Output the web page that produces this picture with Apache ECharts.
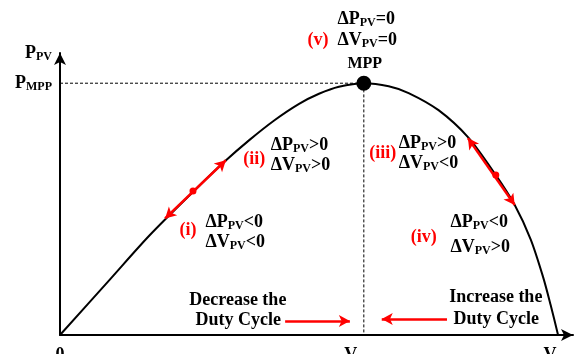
<!DOCTYPE html>
<html>
<head>
<meta charset="utf-8">
<script src="https://cdn.jsdelivr.net/npm/echarts@6/dist/echarts.min.js"></script>
<style>
  html, body { margin: 0; padding: 0; background: #fff; }
  #c { width: 576px; height: 354px; }
</style>
</head>
<body>
<div id="c"></div>
<script>
// P–V characteristic of a PV source, normalised units (V_OC = 100, P_MPP = 100)
const voltage = [0, 10, 18, 27, 33, 38, 43, 48, 52, 56, 61, 66, 70, 76, 82, 87.5, 91.3, 94.5, 97, 98.5, 100];
const power   = [0, 22, 39.6, 57.4, 68.8, 77.4, 85.2, 91.8, 95.8, 98.6, 100, 98.8, 96.1, 89.3, 78.4, 63.5, 51.6, 38, 23, 12, 0];

// maximum power point
const vMpp = 61;
const pMpp = 100;

// axis tick positions and their labels
const xTicks = [0, vMpp, 100];
const xTickLabels = ['0', 'V_MPP', 'V_PV'];
const yTicks = [pMpp, 112];
const yTickLabels = ['P_MPP', 'P_PV'];

// perturbation arrows along the curve: [start, end, middle dot]
const leftArrow  = [[21.1, 46.3], [33.3, 69.4], [26.7, 57.2]];
const rightArrow = [[81.9, 78.2], [91.3, 51.6], [87.5, 63.5]];

// duty-cycle arrows near the voltage axis
const decreaseArrow = [[45.2, 5.6], [58.2, 5.6]];
const increaseArrow = [[77.7, 6.4], [64.6, 6.4]];

// annotation lines: text, anchor (left-middle or centre), alignment, style key
const notes = [
  { t: 'ΔP_PV=0', at: [55.6, 125.5], a: 'left', k: 'b' },
  { t: 'ΔV_PV=0', at: [55.6, 117.2], a: 'left', k: 'b' },
  { t: '(v)',     at: [49.6, 117.2], a: 'left', k: 'r' },
  { t: 'MPP',     at: [61.2, 107.8], a: 'center', k: 'm' },

  { t: 'ΔP_PV>0', at: [42.2, 75.5], a: 'left', k: 'b' },
  { t: 'ΔV_PV>0', at: [42.2, 67.5], a: 'left', k: 'b' },
  { t: '(ii)',    at: [36.7, 69.9], a: 'left', k: 'r' },

  { t: 'ΔP_PV<0', at: [29.1, 44.9], a: 'left', k: 'b' },
  { t: 'ΔV_PV<0', at: [29.1, 36.9], a: 'left', k: 'b' },
  { t: '(i)',     at: [23.9, 41.7], a: 'left', k: 'r' },

  { t: 'ΔP_PV>0', at: [67.9, 76.2], a: 'left', k: 'b' },
  { t: 'ΔV_PV<0', at: [67.9, 68.3], a: 'left', k: 'b' },
  { t: '(iii)',   at: [62.0, 72.3], a: 'left', k: 'r' },

  { t: 'ΔP_PV<0', at: [78.3, 44.9], a: 'left', k: 'b' },
  { t: 'ΔV_PV>0', at: [78.3, 34.9], a: 'left', k: 'b' },
  { t: '(iv)',    at: [70.3, 38.9], a: 'left', k: 'r' },

  { t: 'Decrease the', at: [35.7, 13.9], a: 'center', k: 'b' },
  { t: 'Duty Cycle',   at: [35.8, 6.0],  a: 'center', k: 'b' },
  { t: 'Increase the', at: [87.5, 15.1], a: 'center', k: 'b' },
  { t: 'Duty Cycle',   at: [87.6, 6.4],  a: 'center', k: 'b' }
];

const FONT = '"Liberation Serif", "Times New Roman", serif';
const RED = '#ff0000';

const rich = {
  b: { fontFamily: FONT, fontWeight: 'bold', fontSize: 18, color: '#000', lineHeight: 20 },
  m: { fontFamily: FONT, fontWeight: 'bold', fontSize: 16, color: '#000', lineHeight: 20 },
  r: { fontFamily: FONT, fontWeight: 'bold', fontSize: 18, color: RED, lineHeight: 20 },
  s: { fontFamily: FONT, fontWeight: 'bold', fontSize: 12, color: '#000', lineHeight: 14, verticalAlign: 'bottom' }
};

// "ΔP_PV=0" -> rich text with "PV" as a subscript
function fmt(text, key) {
  return '{' + key + '|' + text.replace(/_([A-Z]+)/g, '}{s|$1}{' + key + '|') + '}';
}

const curve = voltage.map((v, i) => [v, power[i]]);

const chart = echarts.init(document.getElementById('c'));

chart.setOption({
  animation: false,
  backgroundColor: '#fff',
  grid: { left: 60, right: 3, top: 53, bottom: 19, containLabel: false, outerBoundsMode: 'none' },
  xAxis: {
    type: 'value', min: 0, max: 103,
    axisLine: { show: true, symbol: ['none', 'arrow'], symbolSize: [9, 12],
                lineStyle: { color: '#000', width: 2 } },
    axisTick: { show: false },
    splitLine: { show: false },
    axisLabel: {
      customValues: xTicks,
      margin: 10,
      formatter: v => fmt(xTickLabels[xTicks.indexOf(v)], 'b'),
      rich: rich
    }
  },
  yAxis: {
    type: 'value', min: 0, max: 112,
    axisLine: { show: true, symbol: ['none', 'arrow'], symbolSize: [9, 12],
                lineStyle: { color: '#000', width: 2 } },
    axisTick: { show: false },
    splitLine: { show: false },
    axisLabel: {
      customValues: yTicks,
      margin: 8,
      formatter: v => fmt(yTickLabels[yTicks.indexOf(v)], 'b'),
      rich: rich
    }
  },
  series: [
    {
      // dashed guides to the MPP
      type: 'line',
      data: [[0, pMpp], [vMpp, pMpp], [vMpp, 0]],
      symbol: 'none',
      lineStyle: { color: '#000', width: 1, type: [3, 2] },
      silent: true, z: 1
    },
    {
      // P–V curve
      type: 'line',
      data: curve,
      smooth: 0.3,
      symbol: 'none',
      lineStyle: { color: '#000', width: 2 },
      silent: true, z: 2,
      markLine: {
        silent: true,
        symbol: ['arrow', 'arrow'],
        symbolSize: [9, 11],
        label: { show: false },
        lineStyle: { color: RED, width: 2.5, type: 'solid', opacity: 1 },
        data: [
          [{ coord: leftArrow[0] }, { coord: leftArrow[1] }],
          [{ coord: rightArrow[0] }, { coord: rightArrow[1] }],
          [{ coord: decreaseArrow[0], symbol: 'none' }, { coord: decreaseArrow[1], symbol: 'arrow' }],
          [{ coord: increaseArrow[0], symbol: 'none' }, { coord: increaseArrow[1], symbol: 'arrow' }]
        ]
      }
    },
    {
      // midpoints of the perturbation arrows
      type: 'scatter',
      data: [leftArrow[2], rightArrow[2]],
      symbolSize: 7,
      itemStyle: { color: RED, opacity: 1 },
      silent: true, z: 4
    },
    {
      // maximum power point
      type: 'scatter',
      data: [[vMpp, pMpp]],
      symbolSize: 15,
      itemStyle: { color: '#000', opacity: 1 },
      silent: true, z: 5
    },
    {
      // text annotations
      type: 'scatter',
      clip: false,
      silent: true,
      symbolSize: 1,
      itemStyle: { color: 'rgba(0,0,0,0)', opacity: 1 },
      z: 6,
      data: notes.map(n => ({
        value: n.at,
        label: {
          show: true,
          opacity: 1,
          position: n.a === 'center' ? 'inside' : 'right',
          distance: 0,
          align: n.a,
          verticalAlign: 'middle',
          formatter: fmt(n.t, n.k),
          rich: rich
        }
      }))
    }
  ]
});
</script>
</body>
</html>
